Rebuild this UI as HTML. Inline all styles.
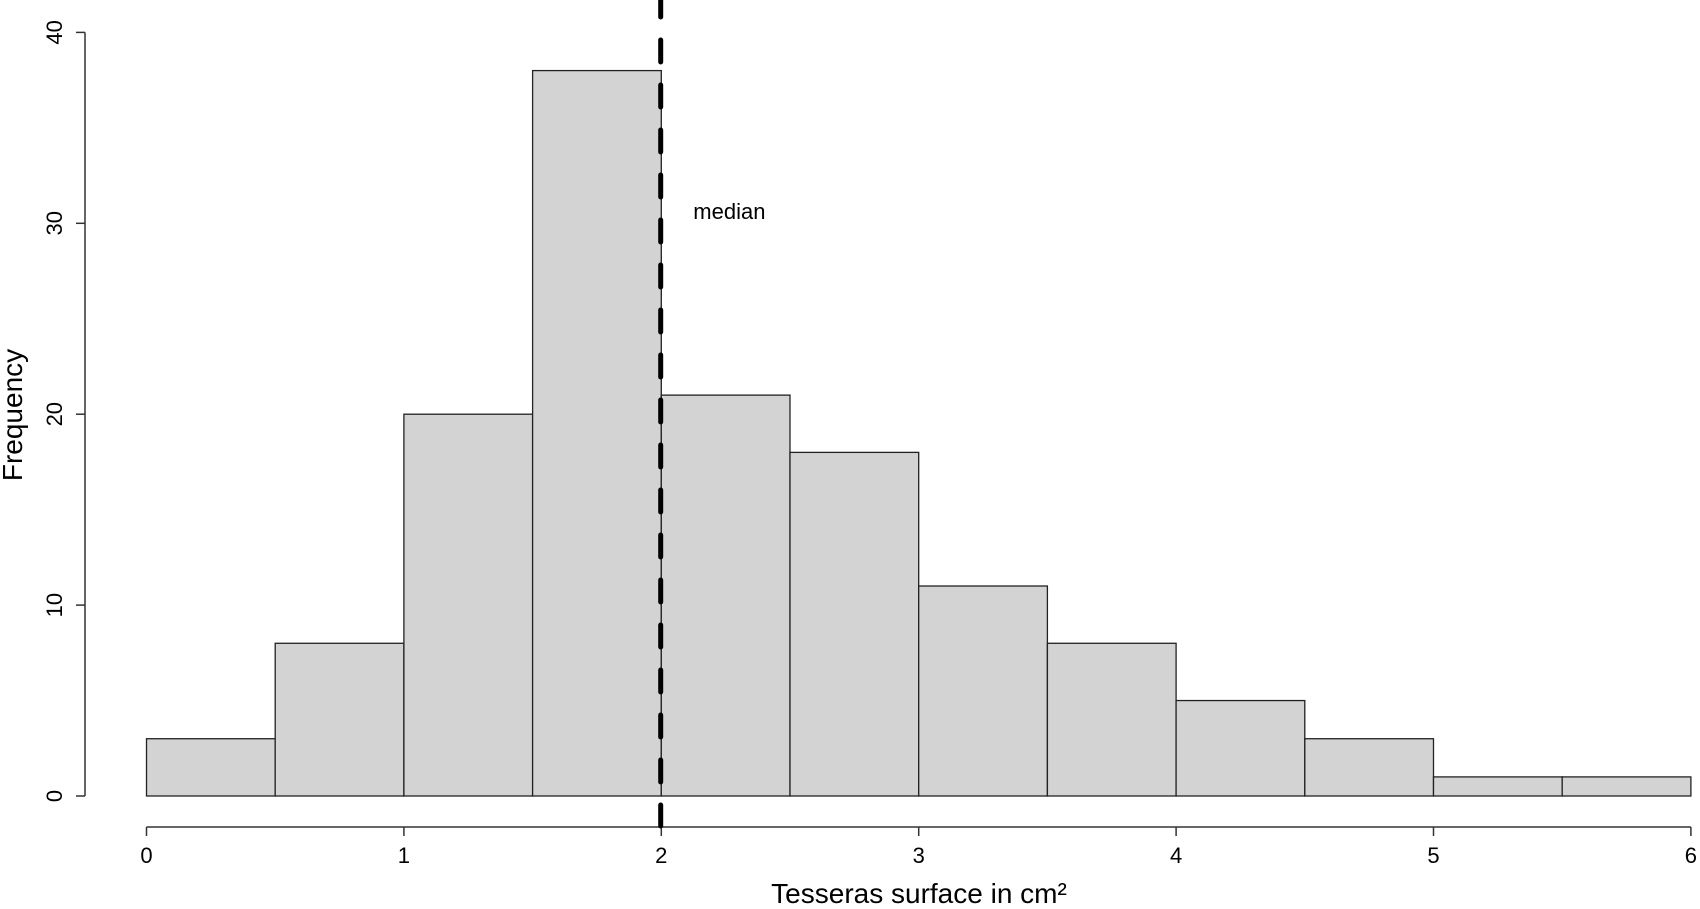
<!DOCTYPE html>
<html><head><meta charset="utf-8"><style>
html,body{margin:0;padding:0;background:#fff;}
svg{display:block;font-family:"Liberation Sans",sans-serif;}
</style></head><body>
<svg id="chart" width="1700" height="909"></svg>
<script>
const binStarts=[0,0.5,1,1.5,2,2.5,3,3.5,4,4.5,5,5.5];
const counts=[3,8,20,38,21,18,11,8,5,3,1,1];
const binWidth=0.5;
const xTicks=[0,1,2,3,4,5,6];
const yTicks=[0,10,20,30,40];
const medianValue=2;
const NS="http://www.w3.org/2000/svg";
const svg=document.getElementById('chart');
const X0=146.5,XS=257.4,Y0=796,YS=19.09;
const x=v=>X0+v*XS, y=v=>Y0-v*YS;
function el(t,a,p){const e=document.createElementNS(NS,t);for(const k in a)e.setAttribute(k,a[k]);(p||svg).appendChild(e);return e;}
const bars=el('g',{});


binStarts.forEach((b,i)=>{
  const r=el('rect',{x:x(b),y:y(counts[i]),width:x(b+binWidth)-x(b),height:Y0-y(counts[i]),fill:'#d3d3d3',stroke:'#222','stroke-width':1.3},bars);
  
  
});
const ya=el('g',{});


el('line',{x1:85,x2:85,y1:y(0),y2:y(40),stroke:'#333','stroke-width':1.5},ya);
yTicks.forEach(t=>{
  el('line',{x1:76,x2:85,y1:y(t),y2:y(t),stroke:'#333','stroke-width':1.5},ya);
  const tx=el('text',{x:0,y:0,'font-size':22,'text-anchor':'middle',transform:`translate(62,${y(t)}) rotate(-90)`},ya);
  tx.textContent=t;
  
  
});
const xa=el('g',{});


el('line',{x1:x(0),x2:x(6),y1:827,y2:827,stroke:'#333','stroke-width':1.5},xa);
xTicks.forEach(t=>{
  el('line',{x1:x(t),x2:x(t),y1:827,y2:836,stroke:'#333','stroke-width':1.5},xa);
  const tx=el('text',{x:x(t),y:863,'font-size':22,'text-anchor':'middle'},xa);
  tx.textContent=t;
  
  
});
const mx=x(medianValue)-0.6;
const ml=el('line',{x1:mx,x2:mx,y1:-5,y2:826,stroke:'#000','stroke-width':5,'stroke-dasharray':'22,23','stroke-linecap':'round'});


const mt=el('text',{x:x(medianValue)+32,y:219,'font-size':22});
mt.textContent='median';


const xt=el('text',{x:919,y:903,'font-size':28,'text-anchor':'middle'});
xt.textContent='Tesseras surface in cm²';


const yt=el('text',{x:0,y:0,'font-size':28,'text-anchor':'middle',transform:'translate(22,415) rotate(-90)'});
yt.textContent='Frequency';


</script>
</body></html>
